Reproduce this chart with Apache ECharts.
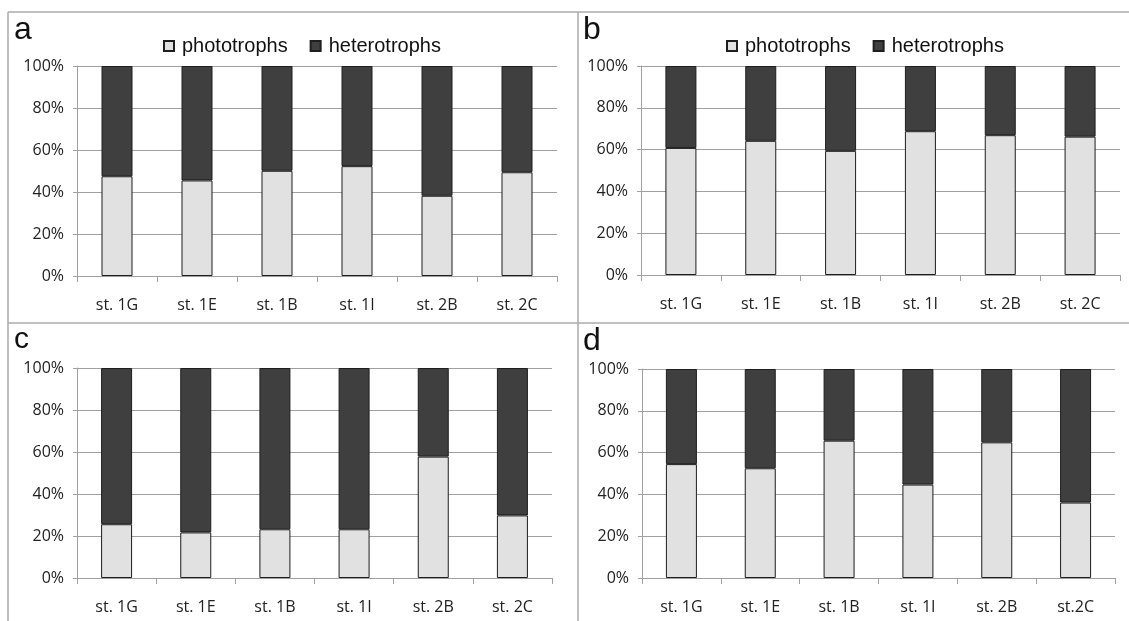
<!DOCTYPE html>
<html>
<head>
<meta charset="utf-8">
<script src="https://cdn.jsdelivr.net/npm/echarts@6/dist/echarts.min.js"></script>
<style>
  html, body { margin: 0; padding: 0; background: #fff; }
  #chart { width: 1129px; height: 621px; }
</style>
</head>
<body>
<div id="chart"></div>
<script>
// station names (panel d writes the last one without a space)
let stations = ['st. 1G', 'st. 1E', 'st. 1B', 'st. 1I', 'st. 2B', 'st. 2C']
let stationsD = ['st. 1G', 'st. 1E', 'st. 1B', 'st. 1I', 'st. 2B', 'st.2C']

// share of each group, percent
let phototrophsA = [47.5, 45.5, 50.1, 52.3, 38.2, 49.4]
let heterotrophsA = [52.5, 54.5, 49.9, 47.7, 61.8, 50.6]
let phototrophsB = [60.8, 64.2, 59.4, 68.8, 66.9, 66.2]
let heterotrophsB = [39.2, 35.8, 40.6, 31.2, 33.1, 33.8]
let phototrophsC = [25.6, 21.7, 23.2, 23.2, 57.8, 29.8]
let heterotrophsC = [74.4, 78.3, 76.8, 76.8, 42.2, 70.2]
let phototrophsD = [54.5, 52.5, 65.7, 44.7, 64.9, 36.1]
let heterotrophsD = [45.5, 47.5, 34.3, 55.3, 35.1, 63.9]

let yTicks = [0, 20, 40, 60, 80, 100]

let panels = [
  { letter: 'a', cats: stations, photo: phototrophsA, hetero: heterotrophsA, grid: { left: 77, top: 66, width: 480, height: 210 } },
  { letter: 'b', cats: stations, photo: phototrophsB, hetero: heterotrophsB, grid: { left: 641, top: 66, width: 479, height: 209 } },
  { letter: 'c', cats: stations, photo: phototrophsC, hetero: heterotrophsC, grid: { left: 77, top: 368, width: 475, height: 210 } },
  { letter: 'd', cats: stationsD, photo: phototrophsD, hetero: heterotrophsD, grid: { left: 642, top: 369, width: 473, height: 209 } }
]
let letterPos = [[14, 14], [583, 14], [14, 325], [583, 325]]

let lightFill = '#e1e1e1'
let darkFill = '#3f3f3f'
let edge = '#1e1e1e'
let gridGray = '#a0a0a0'
let labelFont = { fontFamily: 'Open Sans', fontSize: 16, color: '#222' }

let grids = [], xAxes = [], yAxes = [], series = [], titles = []
panels.forEach((p, i) => {
  grids.push(p.grid)
  titles.push({
    text: p.letter,
    left: letterPos[i][0],
    top: letterPos[i][1],
    padding: 0,
    textStyle: { fontFamily: 'Liberation Sans', fontSize: p.letter === 'c' ? 30 : 32, fontWeight: 'normal', color: '#111' }
  })
  xAxes.push({
    type: 'category',
    gridIndex: i,
    data: p.cats,
    axisLine: { lineStyle: { color: gridGray, width: 1 } },
    axisTick: { show: true, length: 6, lineStyle: { color: gridGray } },
    axisLabel: Object.assign({ margin: 21 }, labelFont)
  })
  yAxes.push({
    type: 'value',
    gridIndex: i,
    min: yTicks[0],
    max: yTicks[yTicks.length - 1],
    interval: yTicks[1] - yTicks[0],
    axisLine: { show: true, lineStyle: { color: gridGray } },
    axisTick: { show: true, length: 4, lineStyle: { color: gridGray } },
    splitLine: { lineStyle: { color: gridGray, width: 1 } },
    axisLabel: Object.assign({ margin: 13, formatter: '{value}%' }, labelFont)
  })
  series.push({
    name: 'phototrophs', type: 'bar', stack: 's' + i,
    xAxisIndex: i, yAxisIndex: i, barWidth: 31,
    itemStyle: { color: lightFill, borderColor: edge, borderWidth: 1 },
    data: p.photo
  })
  series.push({
    name: 'heterotrophs', type: 'bar', stack: 's' + i,
    xAxisIndex: i, yAxisIndex: i, barWidth: 31,
    itemStyle: { color: darkFill, borderColor: edge, borderWidth: 1 },
    data: p.hetero
  })
})

function legendAt(left) {
  return {
    left: left, top: 31,
    icon: 'rect', itemWidth: 10, itemHeight: 10, itemGap: 22,
    selectedMode: false,
    data: ['phototrophs', 'heterotrophs'],
    textStyle: { fontFamily: 'Liberation Sans', fontSize: 20, color: '#111', padding: [0, 0, 0, 3] }
  }
}

// panel frame lines
let frame = { stroke: '#ababab', lineWidth: 1.5 }
let graphic = [
  { type: 'line', shape: { x1: 8, y1: 12, x2: 1129, y2: 12 }, style: frame },
  { type: 'line', shape: { x1: 8, y1: 12, x2: 8, y2: 621 }, style: frame },
  { type: 'line', shape: { x1: 578, y1: 12, x2: 578, y2: 621 }, style: frame },
  { type: 'line', shape: { x1: 8, y1: 323, x2: 1129, y2: 323 }, style: frame }
]

let chart = echarts.init(document.getElementById('chart'))
chart.setOption({
  animation: false,
  title: titles,
  legend: [legendAt(158), legendAt(721)],
  grid: grids,
  xAxis: xAxes,
  yAxis: yAxes,
  series: series,
  graphic: graphic
})
</script>
</body>
</html>
